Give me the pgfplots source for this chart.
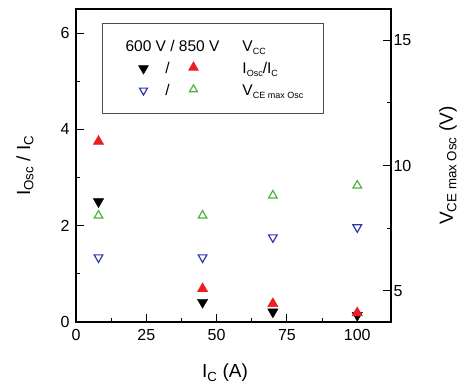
\documentclass[border=0pt]{standalone}
\usepackage{fontspec}
\setmainfont{Liberation Sans}
\usepackage{pgfplots}
\pgfplotsset{compat=1.18}
\definecolor{myred}{RGB}{235,30,35}
\definecolor{mygreen}{RGB}{75,180,60}
\definecolor{myblue}{RGB}{45,55,170}
\newcommand\lsub[1]{\raisebox{-0.45ex}{\fontsize{9}{9}\selectfont #1}}
\begin{document}
\begin{tikzpicture}
\pgfplotsset{
  every axis/.append style={
    scale only axis, width=315pt, height=313pt,
    xmin=0, xmax=112,
    tick align=inside,
    major tick length=8pt, minor tick length=4pt,
    axis line style={line width=1.1pt},
    every tick/.style={line width=1pt, black},
    tick label style={font=\fontsize{16}{18}\selectfont},
    label style={font=\fontsize{19}{22}\selectfont},
    /pgf/number format/assume math mode=true,
    clip=false,
  }
}
\begin{axis}[
  ymin=0, ymax=6.5,
  xtick={0,25,50,75,100}, minor xtick={12.5,37.5,62.5,87.5},
  ytick={0,2,4,6}, minor ytick={1,3,5},
  xtick pos=bottom, ytick pos=left,
  xticklabel style={yshift=-4pt},
  yticklabel style={xshift=-3pt},
  xlabel={I\textsubscript{C} (A)},
  ylabel={I\textsubscript{Osc} / I\textsubscript{C}},
  xlabel style={at={(axis description cs:0.473,-0.163)}, anchor=center},
  ylabel style={at={(axis description cs:-0.162,0.5)}, anchor=center},
  legend cell align=left,
  legend style={at={(0.083,0.955)}, anchor=north west, draw=black!70, line width=0.7pt,
    fill=white, inner xsep=18pt, inner ysep=12pt, row sep=0pt,
    font=\fontsize{15.5}{17}\selectfont},
]
\addplot[forget plot, only marks, mark=triangle*, mark size=6pt,
  mark options={rotate=180, fill=black, draw=black}]
  coordinates {(8,2.5) (45,0.41) (70,0.21) (100,0.14)};
\addplot[forget plot, only marks, mark=triangle*, mark size=6pt,
  mark options={fill=myred, draw=myred}]
  coordinates {(8,3.75) (45,0.69) (70,0.38) (100,0.19)};
\addlegendimage{legend image code/.code={
  \path[draw=none, fill=none] (-50pt,-11pt) rectangle (70pt,11pt);
  \node[inner sep=0pt, anchor=center] at (2pt,0pt) {600 V / 850 V};}}
\addlegendentry{V\lsub{CC}}
\addlegendimage{legend image code/.code={
  \path[draw=none, fill=none] (-50pt,-11pt) rectangle (70pt,11pt);
  \path plot[only marks, mark=triangle*, mark size=5.5pt, mark options={rotate=180, fill=black, draw=black}] coordinates {(-27pt,0pt)};
  \node[inner sep=0pt, anchor=center] at (-3pt,0pt) {/};
  \path plot[only marks, mark=triangle*, mark size=5.5pt, mark options={fill=myred, draw=myred}] coordinates {(23pt,1pt)};}}
\addlegendentry{I\lsub{Osc}/I\lsub{C}}
\addlegendimage{legend image code/.code={
  \path[draw=none, fill=none] (-50pt,-11pt) rectangle (70pt,11pt);
  \path plot[only marks, mark=triangle, mark size=4.6pt, mark options={rotate=180, draw=myblue, line width=1.2pt}] coordinates {(-27pt,0pt)};
  \node[inner sep=0pt, anchor=center] at (-3pt,0pt) {/};
  \path plot[only marks, mark=triangle, mark size=4.6pt, mark options={draw=mygreen, line width=1.2pt}] coordinates {(23pt,1pt)};}}
\addlegendentry{V\lsub{CE max Osc}}
\path (rel axis cs:0,0) ++(-76pt,-68pt);
\path (rel axis cs:1,1) ++(76pt,9pt);
\end{axis}
\begin{axis}[
  ymin=3.75, ymax=16.25,
  axis y line*=right, axis x line=none,
  ytick={5,10,15}, minor ytick={7.5,12.5},
  yticklabel style={xshift=-1pt},
  ylabel={V\textsubscript{CE max Osc} (V)},
  ylabel style={at={(axis description cs:1.181,0.5)}, anchor=center},
]
\addplot[only marks, mark=triangle, mark size=5pt,
  mark options={rotate=180, draw=myblue, line width=1.2pt}]
  coordinates {(8,6.33) (45,6.33) (70,7.13) (100,7.53)};
\addplot[only marks, mark=triangle, mark size=5pt,
  mark options={draw=mygreen, line width=1.2pt}]
  coordinates {(8,8.0) (45,8.0) (70,8.8) (100,9.2)};
\end{axis}
\end{tikzpicture}
\end{document}
